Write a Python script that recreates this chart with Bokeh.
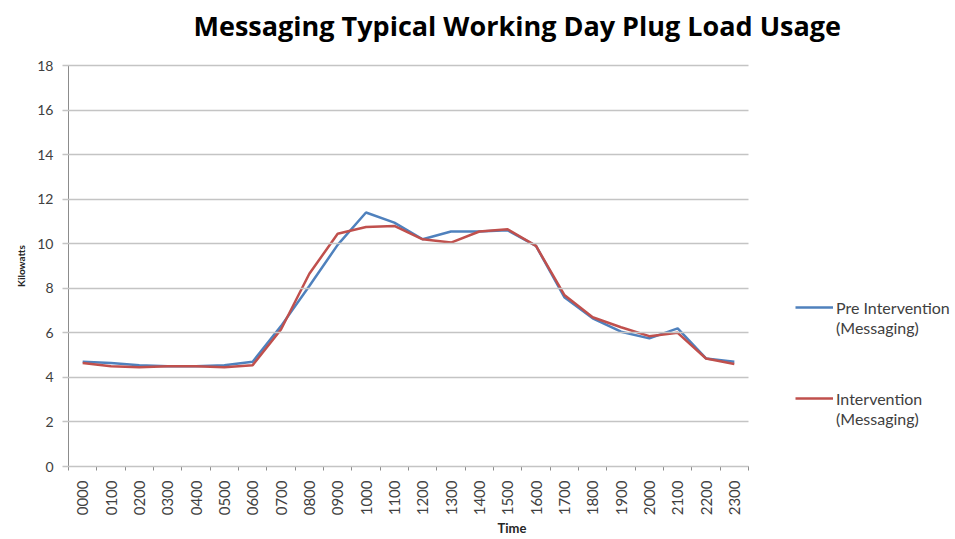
from bokeh.plotting import figure
from bokeh.models import Range1d, Legend, LegendItem, Title, SingleIntervalTicker, FixedTicker
from bokeh.embed import file_html
from bokeh.resources import INLINE
import math

hours = ["0000", "0100", "0200", "0300", "0400", "0500", "0600", "0700", "0800", "0900",
         "1000", "1100", "1200", "1300", "1400", "1500", "1600", "1700", "1800", "1900",
         "2000", "2100", "2200", "2300"]
pre_intervention = [4.7, 4.65, 4.55, 4.5, 4.5, 4.55, 4.7, 6.3, 8.1, 9.95,
                    11.4, 10.95, 10.2, 10.55, 10.55, 10.6, 9.9, 7.6, 6.65, 6.05,
                    5.75, 6.2, 4.85, 4.7]
intervention = [4.65, 4.5, 4.45, 4.5, 4.5, 4.45, 4.55, 6.15, 8.65, 10.45,
                10.75, 10.8, 10.2, 10.05, 10.55, 10.65, 9.9, 7.7, 6.7, 6.25,
                5.85, 6.0, 4.85, 4.6]
series_names = ["Pre Intervention", "Intervention"]
series_sub = "(Messaging)"
title_text = "Messaging Typical Working Day Plug Load Usage"

FONT = "Lato"

# category slots: each hour occupies one unit, centred at i + 0.5
n = len(hours)
x_pos = [i + 0.5 for i in range(n)]

FRAME_LEFT, PLOT_RIGHT, W, H = 68, 748, 955, 539
px_per_slot = (PLOT_RIGHT - FRAME_LEFT) / n
x_end = (W - FRAME_LEFT) / px_per_slot

p = figure(width=W, height=H, x_range=Range1d(0, x_end), y_range=Range1d(0, 18),
           output_backend="svg", toolbar_location=None,
           min_border_left=FRAME_LEFT, min_border_right=0, min_border_top=65,
           min_border_bottom=H - 466)
p.outline_line_color = None
p.background_fill_color = "white"
p.border_fill_color = "white"
p.grid.visible = False

# y axis: ticks drawn inward across the plot area act as horizontal gridlines
p.yaxis.ticker = SingleIntervalTicker(interval=2)
p.yaxis.axis_line_color = "#8c8c8c"
p.yaxis.major_tick_line_color = "#c4c4c4"
p.yaxis.major_tick_line_width = 1.5
p.yaxis.major_tick_out = 6
p.yaxis.major_tick_in = PLOT_RIGHT - FRAME_LEFT
p.yaxis.minor_tick_line_color = None
p.yaxis.major_label_standoff = 9
p.yaxis.major_label_text_font = FONT
p.yaxis.major_label_text_font_size = "14px"
p.yaxis.major_label_text_color = "#404040"
p.yaxis.axis_label = "Kilowatts"
p.yaxis.axis_label_text_font = FONT
p.yaxis.axis_label_text_font_size = "10px"
p.yaxis.axis_label_text_font_style = "bold"
p.yaxis.axis_label_text_color = "#262626"
p.yaxis.axis_label_standoff = 7

p.xaxis.ticker = FixedTicker(ticks=x_pos, minor_ticks=list(range(n + 1)))
p.xaxis.major_label_overrides = {x: h for x, h in zip(x_pos, hours)}
p.xaxis.bounds = (0, n)
p.xaxis.axis_line_color = "#8c8c8c"
p.xaxis.major_tick_line_color = None
p.xaxis.major_tick_out = 0
p.xaxis.major_tick_in = 0
p.xaxis.minor_tick_line_color = "#8c8c8c"
p.xaxis.minor_tick_out = 4
p.xaxis.minor_tick_in = 0
p.xaxis.major_label_orientation = math.pi / 2
p.xaxis.major_label_standoff = 10
p.xaxis.major_label_text_font = FONT
p.xaxis.major_label_text_font_size = "15px"
p.xaxis.major_label_text_color = "#404040"
p.xaxis.axis_label = "Time"
p.xaxis.axis_label_text_font = FONT
p.xaxis.axis_label_text_font_size = "13px"
p.xaxis.axis_label_text_font_style = "bold"
p.xaxis.axis_label_text_color = "#262626"
p.xaxis.axis_label_standoff = 2

r_pre = p.line(x_pos, pre_intervention, line_color="#4F81BD", line_width=2.5)
r_int = p.line(x_pos, intervention, line_color="#C0504D", line_width=2.5)
r_blank = p.line(x_pos[:1], [0], line_alpha=0)

for name, rend, loc in ((series_names[0], r_pre, (727, 129)),
                        (series_names[1], r_int, (727, 38))):
    lg = Legend(items=[LegendItem(label=name, renderers=[rend]),
                       LegendItem(label=series_sub, renderers=[r_blank])],
                location=loc, orientation="vertical",
                spacing=0, padding=0, margin=0, label_height=20, glyph_height=20,
                glyph_width=38, label_standoff=3,
                label_text_font=FONT, label_text_font_size="16px",
                label_text_color="#404040",
                border_line_color=None, background_fill_alpha=0)
    p.add_layout(lg, "center")

spacer = Title(text=" ", text_font_size="1px", standoff=19)
p.add_layout(spacer, "above")
title = Title(text=title_text, align="left", offset=125, vertical_align="bottom",
              standoff=0, text_font="Open Sans", text_font_size="27px",
              text_font_style="bold", text_color="#000000")
p.add_layout(title, "above")

open("out.html", "w").write(file_html(p, INLINE))
